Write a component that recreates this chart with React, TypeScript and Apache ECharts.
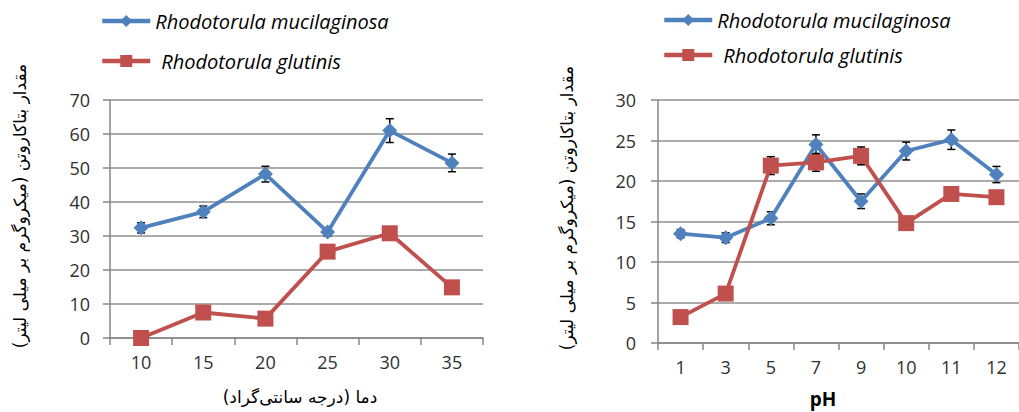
import React, { useEffect, useRef } from "react";
import * as echarts from "echarts";

const tempCats = ["10", "15", "20", "25", "30", "35"];
const tempMuc = [32.4, 37.1, 48.2, 31.2, 61.0, 51.5];
const tempMucErr = [1.5, 1.7, 2.3, 1.2, 3.5, 2.6];
const tempGlu = [0, 7.5, 5.7, 25.4, 30.8, 14.9];
const tempGluErr = [0.8, 1.0, 1.0, 1.2, 1.5, 1.0];

const phCats = ["1", "3", "5", "7", "9", "10", "11", "12"];
const phMuc = [13.5, 13.0, 15.4, 24.5, 17.5, 23.7, 25.1, 20.8];
const phMucErr = [0.5, 0.6, 0.8, 1.2, 0.9, 1.1, 1.2, 1.0];
const phGlu = [3.2, 6.1, 21.9, 22.3, 23.1, 14.8, 18.4, 18.0];
const phGluErr = [0.3, 0.3, 1.1, 1.1, 1.1, 0.5, 0.7, 0.5];

const tempTicks = [0, 70, 10];
const phTicks = [0, 30, 5];

const MUC = "Rhodotorula mucilaginosa";
const GLU = "Rhodotorula glutinis";
const BLUE = "#4F81BD";
const RED = "#C0504D";
const YTITLE = "مقدار بتاکاروتن (میکروگرم بر میلی لیتر)";
const XTITLE_T = "دما (درجه سانتی‌گراد)";
const XTITLE_P = "pH";

const FONT = "'Open Sans', 'DejaVu Sans', sans-serif";

function errData(vals: number[], errs: number[]) {
  return vals.map((v, i) => [i, v - errs[i], v + errs[i]]);
}

const errRender = (params: any, api: any) => {
  const x = api.value(0);
  const lo = api.coord([x, api.value(1)]);
  const hi = api.coord([x, api.value(2)]);
  const w = 4;
  const style = { stroke: "#000", lineWidth: 1.5 };
  return {
    type: "group",
    children: [
      { type: "line", shape: { x1: lo[0], y1: lo[1], x2: hi[0], y2: hi[1] }, style },
      { type: "line", shape: { x1: hi[0] - w, y1: hi[1], x2: hi[0] + w, y2: hi[1] }, style },
      { type: "line", shape: { x1: lo[0] - w, y1: lo[1], x2: lo[0] + w, y2: lo[1] }, style },
    ],
  };
};

function xAxis(cats: string[], gridIndex: number) {
  return {
    type: "category",
    gridIndex,
    data: cats,
    boundaryGap: true,
    axisLine: { lineStyle: { color: "#868686", width: 1.5 } },
    axisTick: { show: true, length: 7, lineStyle: { color: "#868686", width: 1.5 } },
    axisLabel: { color: "#303030", fontSize: 18, fontFamily: FONT, margin: 15 },
  };
}

function yAxis(t: number[], gridIndex: number, margin: number) {
  return {
    type: "value",
    gridIndex,
    min: t[0],
    max: t[1],
    interval: t[2],
    axisLine: { show: true, lineStyle: { color: "#868686", width: 1.5 } },
    axisTick: { show: true, length: 7, lineStyle: { color: "#868686", width: 1.5 } },
    splitLine: { show: true, lineStyle: { color: "#8f8f8f", width: 1.5 } },
    axisLabel: { color: "#303030", fontSize: 18, fontFamily: FONT, margin },
  };
}

function lineSeries(name: string, data: number[], idx: number, color: string, sym: string, size: number) {
  return {
    name,
    type: "line",
    xAxisIndex: idx,
    yAxisIndex: idx,
    data,
    symbol: sym,
    symbolSize: size,
    z: 3,
    itemStyle: { color },
    lineStyle: { color, width: 3.8 },
  };
}

function errSeries(vals: number[], errs: number[], idx: number) {
  return {
    type: "custom",
    xAxisIndex: idx,
    yAxisIndex: idx,
    z: 2,
    renderItem: errRender,
    encode: { x: 0, y: [1, 2] },
    data: errData(vals, errs),
  };
}

function legend(name: string, left: number, top: number, pad: number) {
  return {
    data: [name],
    left,
    top,
    padding: 0,
    orient: "horizontal",
    itemWidth: 48,
    itemHeight: 15,
    itemGap: 4,
    selectedMode: false,
    lineStyle: { width: 4.5 },
    textStyle: {
      fontStyle: "italic",
      fontSize: 20,
      fontFamily: FONT,
      color: "#000",
      padding: [0, 0, 0, pad],
    },
  };
}

export default function App() {
  const ref = useRef<HTMLDivElement>(null);
  useEffect(() => {
    if (!ref.current) return;
    const chart = echarts.init(ref.current, undefined, { renderer: "svg" });
    const ytitle = (x: number, y: number) => ({
      type: "text",
      x,
      y,
      rotation: Math.PI / 2,
      style: {
        text: YTITLE,
        font: "17px 'DejaVu Sans', sans-serif",
        fill: "#000",
        align: "center",
        verticalAlign: "middle",
      },
    });
    chart.setOption({
      animation: false,
      backgroundColor: "#fff",
      grid: [
        { left: 110, top: 100, width: 373, height: 238 },
        { left: 658, top: 100, width: 370, height: 243 },
      ],
      legend: [
        legend(MUC, 100, 11, 0),
        legend(GLU, 100, 51, 6),
        legend(MUC, 662, 10, 0),
        legend(GLU, 662, 45, 6),
      ],
      xAxis: [xAxis(tempCats, 0), xAxis(phCats, 1)],
      yAxis: [yAxis(tempTicks, 0, 20), yAxis(phTicks, 1, 22)],
      series: [
        errSeries(tempMuc, tempMucErr, 0),
        errSeries(tempGlu, tempGluErr, 0),
        lineSeries(MUC, tempMuc, 0, BLUE, "diamond", 15),
        lineSeries(GLU, tempGlu, 0, RED, "rect", 16),
        errSeries(phMuc, phMucErr, 1),
        errSeries(phGlu, phGluErr, 1),
        lineSeries(MUC, phMuc, 1, BLUE, "diamond", 15),
        lineSeries(GLU, phGlu, 1, RED, "rect", 16),
      ],
      graphic: [
        ytitle(20, 206),
        ytitle(567, 208),
        {
          type: "text",
          x: 300,
          y: 397,
          style: {
            text: XTITLE_T,
            font: "17px 'DejaVu Sans', sans-serif",
            fill: "#000",
            align: "center",
            verticalAlign: "middle",
          },
        },
        {
          type: "text",
          x: 823,
          y: 399,
          style: {
            text: XTITLE_P,
            font: "bold 19px 'Open Sans', sans-serif",
            fill: "#000",
            align: "center",
            verticalAlign: "middle",
          },
        },
      ],
    });
    return () => chart.dispose();
  }, []);
  return (
    <div
      ref={ref}
      style={{ position: "fixed", left: 0, top: 0, width: 1019, height: 412 }}
    />
  );
}
